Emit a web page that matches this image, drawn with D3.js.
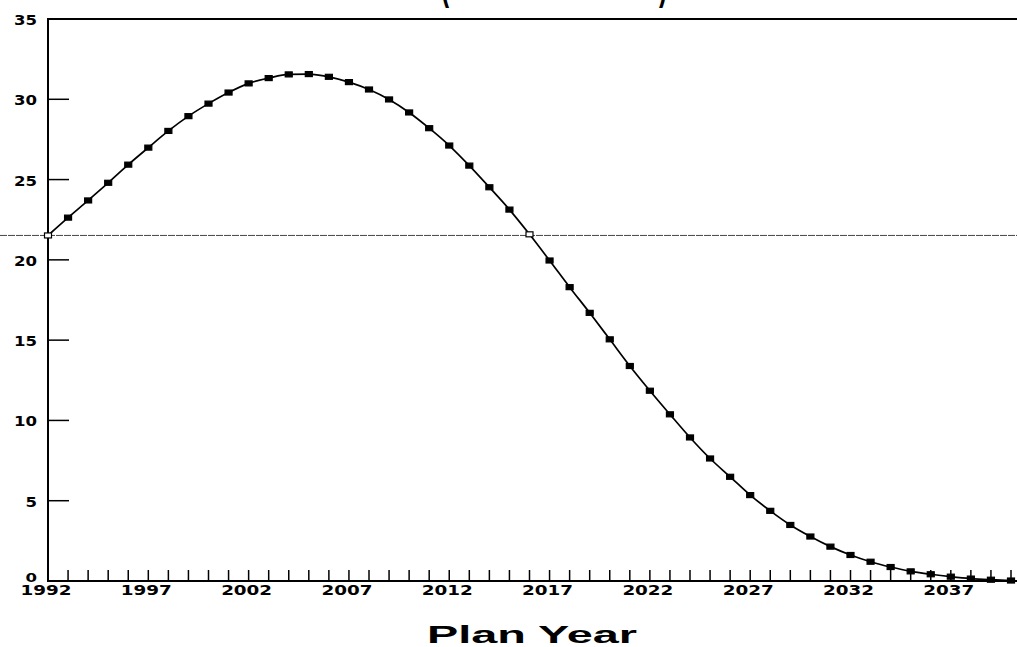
<!DOCTYPE html>
<html>
<head>
<meta charset="utf-8">
<script src="https://cdn.jsdelivr.net/npm/d3@7"></script>
<style>
  body { margin: 0; background: #fff; }
  svg { display: block; }
</style>
</head>
<body>
<script>
const width = 1017;
const height = 647;

// values, one per plan year
const years = d3.range(1992, 2041);
const values = [
  21.52, 22.63, 23.7, 24.8, 25.93, 26.99, 28.03, 28.95, 29.73, 30.42,
  30.99, 31.32, 31.55, 31.57, 31.4, 31.07, 30.61, 29.99, 29.18, 28.2,
  27.12, 25.87, 24.52, 23.13, 21.59, 19.96, 18.3, 16.7, 15.05, 13.39,
  11.85, 10.38, 8.94, 7.63, 6.49, 5.35, 4.37, 3.49, 2.77, 2.14,
  1.62, 1.2, 0.87, 0.6, 0.42, 0.27, 0.15, 0.08, 0.03
];
const openYears = [1992, 2016];
const referenceValue = 21.52;
const yTicks = [0, 5, 10, 15, 20, 25, 30, 35];
const xLabelYears = [1992, 1997, 2002, 2007, 2012, 2017, 2022, 2027, 2032, 2037];
const titleText = "(Millions of Dollars)";
const xTitle = "Plan Year";

const data = years.map((y, i) => ({ year: y, value: values[i] }));

const svg = d3.select("body").append("svg").attr("width", width).attr("height", height);

const x = d3.scaleLinear().domain([1992, 2040]).range([48, 1011]);
const y = d3.scaleLinear().domain([0, 35]).range([581, 19]);

const tickFont = "'DejaVu Sans', sans-serif";

// title: the page is cropped, only the bottom of the brackets shows
svg.append("text")
  .attr("x", 554)
  .attr("y", -1)
  .attr("text-anchor", "middle")
  .attr("font-family", "'Liberation Sans', Arial, sans-serif")
  .attr("font-weight", "bold")
  .attr("font-size", 44)
  .attr("textLength", 226)
  .attr("lengthAdjust", "spacingAndGlyphs")
  .text(titleText);

// reference line across the whole width
svg.append("line")
  .attr("x1", 0)
  .attr("x2", width)
  .attr("y1", y(referenceValue))
  .attr("y2", y(referenceValue))
  .attr("stroke", "#444")
  .attr("stroke-width", 1)
  .attr("stroke-dasharray", "7,1");

// frame: left, top, bottom
svg.append("path")
  .attr("d", `M${width},${y(35)}H${x(1992)}V${y(0)}H${width}`)
  .attr("fill", "none")
  .attr("stroke", "#000")
  .attr("stroke-width", 2);

// y ticks (inward) and labels
svg.selectAll(".ytick")
  .data(yTicks.filter((t) => t > 0 && t < 35))
  .enter()
  .append("line")
  .attr("class", "ytick")
  .attr("x1", x(1992))
  .attr("x2", x(1992) + 21)
  .attr("y1", (d) => y(d))
  .attr("y2", (d) => y(d))
  .attr("stroke", "#000")
  .attr("stroke-width", 1.5);

svg.selectAll(".ylabel")
  .data(yTicks)
  .enter()
  .append("text")
  .attr("class", "ylabel")
  .attr("x", 37)
  .attr("y", (d) => (d === 0 ? y(d) + 1 : y(d) + 6))
  .attr("text-anchor", "end")
  .attr("font-family", tickFont)
  .attr("font-weight", "bold")
  .attr("font-size", (d) => (d === 0 ? 12 : 14))
  .attr("textLength", (d) => String(d).length * 11.5)
  .attr("lengthAdjust", "spacingAndGlyphs")
  .text((d) => d);

// x ticks every year (inward)
svg.selectAll(".xtick")
  .data(years.slice(1))
  .enter()
  .append("line")
  .attr("class", "xtick")
  .attr("x1", (d) => x(d))
  .attr("x2", (d) => x(d))
  .attr("y1", y(0))
  .attr("y2", y(0) - 11)
  .attr("stroke", "#000")
  .attr("stroke-width", 1.5);

svg.selectAll(".xlabel")
  .data(xLabelYears)
  .enter()
  .append("text")
  .attr("class", "xlabel")
  .attr("x", (d) => x(d) - 2)
  .attr("y", 595)
  .attr("text-anchor", "middle")
  .attr("font-family", tickFont)
  .attr("font-weight", "bold")
  .attr("font-size", 14)
  .attr("textLength", 51)
  .attr("lengthAdjust", "spacingAndGlyphs")
  .text((d) => d);

svg.append("text")
  .attr("x", 532)
  .attr("y", 643)
  .attr("text-anchor", "middle")
  .attr("font-family", "'Liberation Sans', Arial, sans-serif")
  .attr("font-weight", "bold")
  .attr("font-size", 24)
  .attr("textLength", 210)
  .attr("lengthAdjust", "spacingAndGlyphs")
  .text(xTitle);

// curve
const line = d3.line()
  .x((d) => x(d.year))
  .y((d) => y(d.value))
  .curve(d3.curveMonotoneX);

svg.append("path")
  .datum(data)
  .attr("d", line)
  .attr("fill", "none")
  .attr("stroke", "#000")
  .attr("stroke-width", 1.7);

// markers
svg.selectAll(".pt")
  .data(data)
  .enter()
  .append("rect")
  .attr("class", "pt")
  .attr("x", (d) => x(d.year) - 3.5)
  .attr("y", (d) => y(d.value) - 2.5)
  .attr("width", 7)
  .attr("height", 5)
  .attr("fill", (d) => (openYears.includes(d.year) ? "#fff" : "#000"))
  .attr("stroke", "#000")
  .attr("stroke-width", 1.2);
</script>
</body>
</html>
